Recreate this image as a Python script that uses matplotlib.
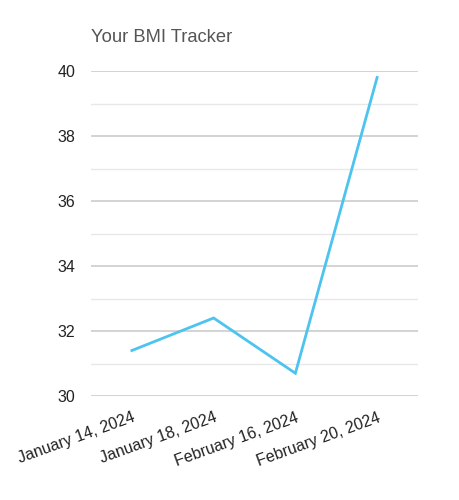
import matplotlib
matplotlib.use("Agg")
import matplotlib.pyplot as plt
from matplotlib.ticker import MultipleLocator

dates = ["January 14, 2024", "January 18, 2024", "February 16, 2024", "February 20, 2024"]
bmi = [31.4, 32.4, 30.7, 39.8]

plt.rcParams['font.family'] = ['Liberation Sans', 'DejaVu Sans']

fig = plt.figure(figsize=(4.59, 5.0), dpi=100)
ax = fig.add_axes([91/459, 1-396/500, 327/459, 325/500])

x = list(range(len(dates)))
ax.plot(x, bmi, color='#4DC3EF', linewidth=2.0, solid_joinstyle='miter')
ax.set_xlim(-0.5, len(dates) - 0.5)
ax.set_ylim(30, 40)
ax.yaxis.set_major_locator(MultipleLocator(2))
ax.yaxis.set_minor_locator(MultipleLocator(1))
ax.grid(axis='y', which='major', color='#cccccc', linewidth=1.2)
ax.grid(axis='y', which='minor', color='#e8e8e8', linewidth=1.0)
ax.set_axisbelow(True)
for s in ax.spines.values():
    s.set_visible(False)
ax.tick_params(axis='both', which='both', length=0)
ax.tick_params(axis='y', pad=11.5, labelsize=11.5, labelcolor='#222222')
ax.set_xticks(x)
ax.set_xticklabels(dates, rotation=20, ha='right', va='top', rotation_mode='anchor',
                   fontsize=11.5, color='#222222')
ax.tick_params(axis='x', pad=10)

fig.text(91/459, 1-37/500, "Your BMI Tracker", fontsize=13.2, color='#555555', ha='left', va='center')

fig.savefig("out.png", dpi=100)
